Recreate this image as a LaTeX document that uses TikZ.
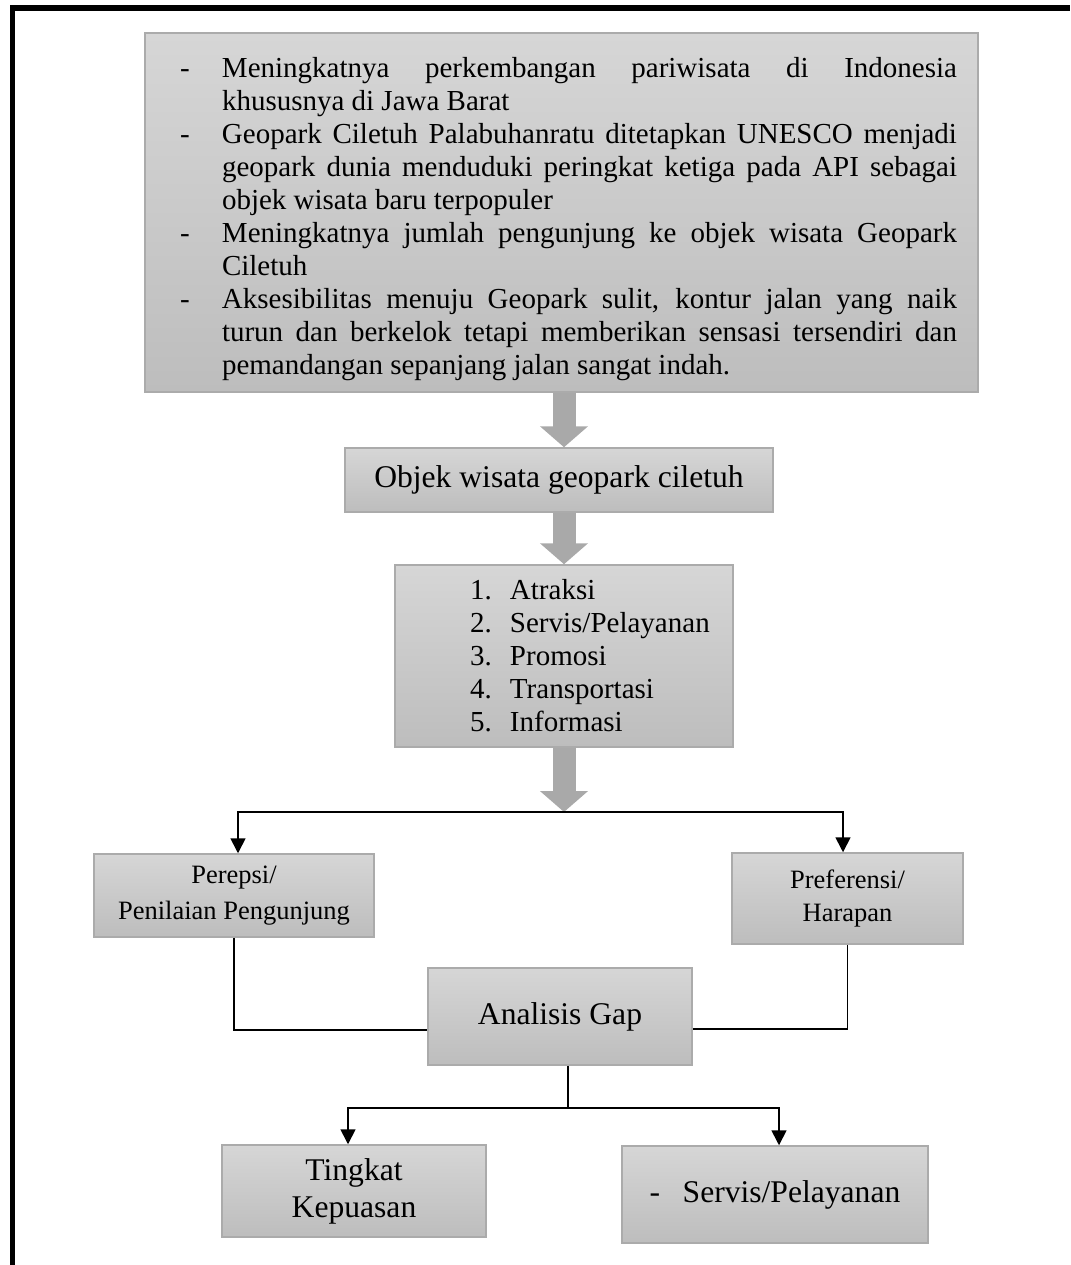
\documentclass[tikz,border=0pt]{standalone}
\usepackage{fontspec}
\setmainfont{Liberation Serif}
\usetikzlibrary{arrows.meta}

\definecolor{abuAtas}{HTML}{D6D6D6}
\definecolor{abuBawah}{HTML}{BDBDBD}
\definecolor{abuGaris}{HTML}{ABABAB}
\definecolor{abuPanah}{HTML}{A9A9A9}

\newcommand{\butir}[1]{\par\hangindent=42pt\hangafter=1\noindent\makebox[42pt][l]{-}#1}
\newcommand{\nomor}[1]{\makebox[40pt][l]{#1}}

\begin{document}
\begin{tikzpicture}[x=1pt, y=-1pt,
  kotak/.style={draw=abuGaris, line width=1.5pt, top color=abuAtas, bottom color=abuBawah,
    inner sep=0pt, align=center, font=\fontsize{29}{33}\selectfont},
  blok/.style={draw=abuPanah, line width=23pt, -{Triangle[width=47pt, length=21pt]}},
  panah/.style={line width=1.7pt, -{Triangle[width=15pt, length=15pt]}},
  garis/.style={line width=1.4pt}]
\useasboundingbox (0,0) rectangle (1070,1265);

% Bingkai
\draw[line width=5.5pt] (12.5,1265) -- (12.5,8) -- (1070,8);

% Latar belakang masalah
\node[kotak, minimum width=833pt, minimum height=359pt, text width=791pt, align=justify] (latar) at (561.5,212.5) {\leftskip=14pt
\butir{Meningkatnya perkembangan pariwisata di Indonesia\linebreak khususnya di Jawa Barat}
\butir{Geopark Ciletuh Palabuhanratu ditetapkan UNESCO menjadi\linebreak geopark dunia menduduki peringkat ketiga pada API sebagai\linebreak objek wisata baru terpopuler}
\butir{Meningkatnya jumlah pengunjung ke objek wisata Geopark\linebreak Ciletuh}
\butir{Aksesibilitas menuju Geopark sulit, kontur jalan yang naik\linebreak turun dan berkelok tetapi memberikan sensasi tersendiri dan\linebreak pemandangan sepanjang jalan sangat indah.}\par};

% Objek dan komponen
\node[kotak, font=\fontsize{31.6}{36}\selectfont, minimum width=428pt, minimum height=64pt] (objek) at (559,480) {Objek wisata geopark ciletuh};
\node[kotak, minimum width=338pt, minimum height=182pt, text width=338pt, align=left] (atraksi) at (564,656) {\leftskip=75pt
\nomor{1.}Atraksi\\ \nomor{2.}Servis/Pelayanan\\ \nomor{3.}Promosi\\ \nomor{4.}Transportasi\\ \nomor{5.}Informasi\par};

% Persepsi dan harapan
\node[kotak, font=\fontsize{26.5}{36}\selectfont, minimum width=280pt, minimum height=83pt] (persepsi) at (234,895.5) {Perepsi/\\Penilaian Pengunjung};
\node[kotak, font=\fontsize{26.5}{33}\selectfont, minimum width=231pt, minimum height=91pt] (preferensi) at (847.5,898.5) {Preferensi/\\Harapan};

% Analisis dan hasil
\node[kotak, font=\fontsize{31.6}{37}\selectfont, minimum width=264pt, minimum height=97pt] (analisis) at (560,1016.5) {Analisis Gap};
\node[kotak, font=\fontsize{31.6}{37}\selectfont, minimum width=264pt, minimum height=92pt] (tingkat) at (354,1191) {Tingkat\\Kepuasan};
\node[kotak, font=\fontsize{31.6}{37}\selectfont, minimum width=306pt, minimum height=97pt] (servis) at (775,1194.5) {\makebox[33pt][l]{-}Servis/Pelayanan};

\coordinate (cabang) at (564,812);
\coordinate (simpul) at (568,1108);

% Panah blok
\draw[blok] (latar.south -| atraksi.north) -- (objek.north -| atraksi.north);
\draw[blok] (objek.south -| atraksi.north) -- (atraksi.north);
\draw[blok] (atraksi.south) -- (cabang);

% Percabangan
\draw[panah] (cabang) -| ([xshift=4pt]persepsi.north);
\draw[panah] (cabang) -| ([xshift=-4.5pt]preferensi.north);
\draw[garis] (persepsi.south) |- ([yshift=-13.5pt]analisis.west);
\draw[garis] (preferensi.south) |- ([yshift=-12.5pt]analisis.east);
\draw[garis] (analisis.south -| simpul) -- (simpul);
\draw[panah] (simpul) -| ([xshift=-6pt]tingkat.north);
\draw[panah] (simpul) -| ([xshift=4pt]servis.north);
\end{tikzpicture}
\end{document}
